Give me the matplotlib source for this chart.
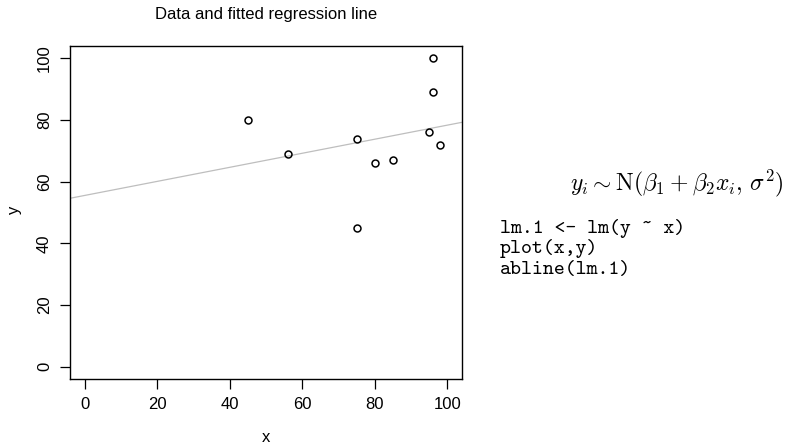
import os
import numpy as np
import matplotlib
matplotlib.use('Agg')
import matplotlib.pyplot as plt
from matplotlib.font_manager import FontProperties

plt.rcParams['font.family'] = ['Liberation Sans', 'DejaVu Sans']
plt.rcParams['mathtext.fontset'] = 'cm'

# data
x = np.array([45, 56, 75, 80, 85, 95, 96, 96, 98, 75])
y = np.array([80, 69, 74, 66, 67, 76, 100, 89, 72, 45])
ticks = [0, 20, 40, 60, 80, 100]
code_lines = ['lm.1 <- lm(y ~ x)', 'plot(x,y)', 'abline(lm.1)']

W, H = 791, 446
fig = plt.figure(figsize=(W / 100, H / 100), dpi=100)
ax = fig.add_axes([70 / W, 1 - 379 / H, (462 - 70) / W, (379 - 46) / H])

# fitted line like abline(lm.1)
b1, b0 = np.polyfit(x, y, 1)
ax.axline((0, b0), slope=b1, color='#bebebe', lw=0.9, zorder=1)
ax.plot(x, y, 'o', mfc='none', mec='black', ms=5, mew=1.1, zorder=2)

ax.set_xlim(-4, 104)
ax.set_ylim(-4, 104)
ax.set_xticks(ticks)
ax.set_yticks(ticks)
ax.tick_params(direction='out', length=7, width=0.9, labelsize=12, pad=6)
for lab in ax.get_yticklabels():
    lab.set_rotation(90)
    lab.set_va('center')
for s in ax.spines.values():
    s.set_linewidth(1.0)

fig.text(266 / W, 1 - 14 / H, 'Data and fitted regression line', ha='center', va='center', fontsize=12)
fig.text(266 / W, 1 - 437 / H, 'x', ha='center', va='center', fontsize=12)
fig.text(15 / W, 1 - 210 / H, 'y', ha='center', va='center', fontsize=12, rotation=90)

fig.text(570 / W, 1 - 183 / H, r'$y_i \sim \mathrm{N}(\beta_1 + \beta_2 x_i,\, \sigma^2)$',
         ha='left', va='center', fontsize=17)

# typewriter font for the R code
tt_path = os.path.join(matplotlib.get_data_path(), 'fonts', 'ttf', 'cmtt10.ttf')
if os.path.exists(tt_path):
    tt = FontProperties(fname=tt_path, size=15)
else:
    tt = FontProperties(family='Liberation Mono', size=13.3)
for i, line in enumerate(code_lines):
    fig.text(500 / W, 1 - (228 + 21 * i) / H, line, ha='left', va='center', fontproperties=tt)

plt.savefig('out.png', dpi=100)
